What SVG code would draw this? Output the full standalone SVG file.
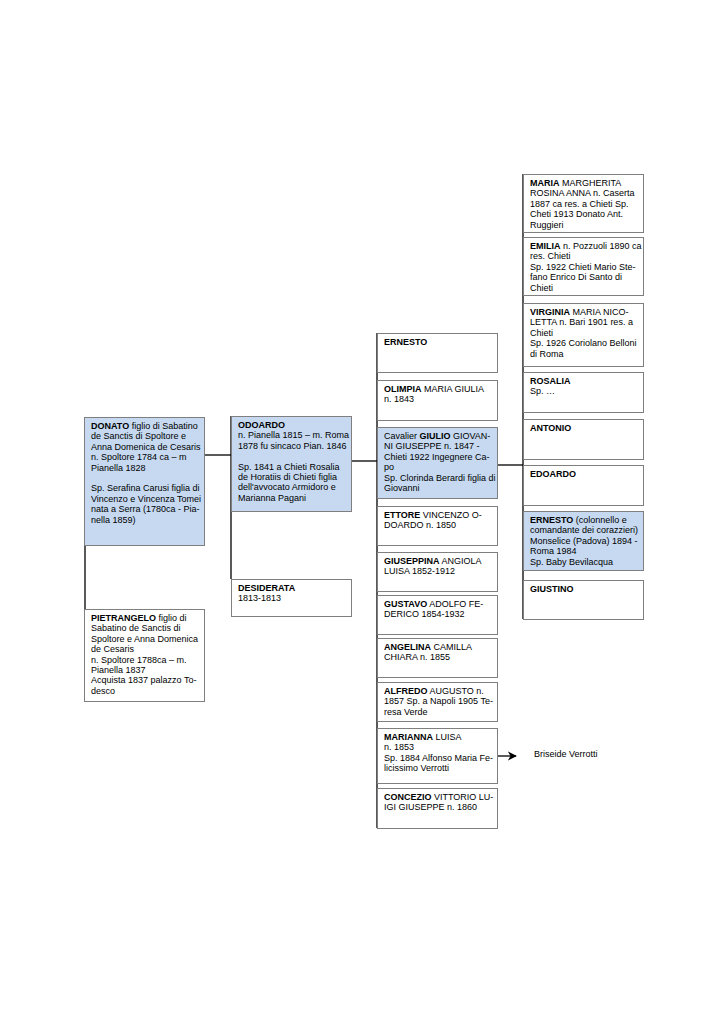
<svg xmlns="http://www.w3.org/2000/svg" width="724" height="1024" viewBox="0 0 724 1024">
<defs>
<style>
.box{fill:#ffffff;stroke:#7f7f7f;stroke-width:1}
.blue{fill:#c6d9f1;stroke:#7f7f7f;stroke-width:1}
.t{font-family:"Liberation Sans",Arial,sans-serif;font-size:9px;fill:#000}
.b{font-weight:bold}
.ln{stroke:#000;stroke-width:1.3;fill:none}
</style>
<marker id="arr" viewBox="0 0 10 10" refX="9" refY="5" markerWidth="7" markerHeight="7" orient="auto"><path d="M0,0 L10,5 L0,10 L3,5 Z" fill="#000"/></marker>
</defs>
<rect width="724" height="1024" fill="#fff"/>
<g id="connectors">
<line class="ln" x1="85" y1="417" x2="85" y2="609"/>
<line class="ln" x1="204" y1="455" x2="231" y2="455"/>
<line class="ln" x1="231" y1="416" x2="231" y2="579"/>
<line class="ln" x1="351" y1="461" x2="377" y2="461"/>
<line class="ln" x1="377" y1="333" x2="377" y2="828"/>
<line class="ln" x1="497" y1="465" x2="523" y2="465"/>
<line class="ln" x1="523" y1="174" x2="523" y2="619"/>
<line class="ln" x1="497" y1="756" x2="516" y2="756" marker-end="url(#arr)"/>
</g>
<g id="donato"><rect class="blue" x="84.5" y="417.5" width="120" height="128"/>
<text class="t" x="91" y="429"><tspan class="b">DONATO</tspan> figlio di Sabatino<tspan x="91" dy="10.4">de Sanctis di Spoltore e</tspan><tspan x="91" dy="10.4">Anna Domenica de Cesaris</tspan><tspan x="91" dy="10.4">n. Spoltore 1784 ca – m</tspan><tspan x="91" dy="10.4">Pianella 1828</tspan><tspan x="91" dy="20.8">Sp. Serafina Carusi figlia di</tspan><tspan x="91" dy="10.4">Vincenzo e Vincenza Tomei</tspan><tspan x="91" dy="10.4">nata a Serra (1780ca - Pia-</tspan><tspan x="91" dy="10.4">nella 1859)</tspan></text></g>
<g id="pietrangelo"><rect class="box" x="84.5" y="609.5" width="120" height="92"/>
<text class="t" x="91" y="621"><tspan class="b">PIETRANGELO</tspan> figlio di<tspan x="91" dy="10.4">Sabatino de Sanctis di</tspan><tspan x="91" dy="10.4">Spoltore e Anna Domenica</tspan><tspan x="91" dy="10.4">de Cesaris</tspan><tspan x="91" dy="10.4">n. Spoltore 1788ca – m.</tspan><tspan x="91" dy="10.4">Pianella 1837</tspan><tspan x="91" dy="10.4">Acquista 1837 palazzo To-</tspan><tspan x="91" dy="10.4">desco</tspan></text></g>
<g id="odoardo"><rect class="blue" x="231.5" y="416.5" width="120" height="95"/>
<text class="t" x="238" y="428"><tspan class="b">ODOARDO</tspan><tspan x="238" dy="10.4">n. Pianella 1815 – m. Roma</tspan><tspan x="238" dy="10.4">1878 fu sincaco Pian. 1846</tspan><tspan x="238" dy="20.8">Sp. 1841 a Chieti Rosalia</tspan><tspan x="238" dy="10.4">de Horatiis di Chieti figlia</tspan><tspan x="238" dy="10.4">dell'avvocato Armidoro e</tspan><tspan x="238" dy="10.4">Marianna Pagani</tspan></text></g>
<g id="desiderata"><rect class="box" x="231.5" y="579.5" width="120" height="37"/>
<text class="t" x="238" y="591"><tspan class="b">DESIDERATA</tspan><tspan x="238" dy="10.4">1813-1813</tspan></text></g>
<g id="ernesto1"><rect class="box" x="377.5" y="333.5" width="120" height="39"/>
<text class="t b" x="384" y="345">ERNESTO</text></g>
<g id="olimpia"><rect class="box" x="377.5" y="380.5" width="120" height="40"/>
<text class="t" x="384" y="392"><tspan class="b">OLIMPIA</tspan> MARIA GIULIA<tspan x="384" dy="10.4">n. 1843</tspan></text></g>
<g id="giulio"><rect class="blue" x="377.5" y="427.5" width="120" height="71"/>
<text class="t" x="384" y="439">Cavalier <tspan class="b">GIULIO</tspan> GIOVAN-<tspan x="384" dy="10.4">NI GIUSEPPE n. 1847 -</tspan><tspan x="384" dy="10.4">Chieti 1922 Ingegnere Ca-</tspan><tspan x="384" dy="10.4">po</tspan><tspan x="384" dy="10.4">Sp. Clorinda Berardi figlia di</tspan><tspan x="384" dy="10.4">Giovanni</tspan></text></g>
<g id="ettore"><rect class="box" x="377.5" y="506.5" width="120" height="39"/>
<text class="t" x="384" y="518"><tspan class="b">ETTORE</tspan> VINCENZO O-<tspan x="384" dy="10.4">DOARDO n. 1850</tspan></text></g>
<g id="giuseppina"><rect class="box" x="377.5" y="552.5" width="120" height="39"/>
<text class="t" x="384" y="564"><tspan class="b">GIUSEPPINA</tspan> ANGIOLA<tspan x="384" dy="10.4">LUISA 1852-1912</tspan></text></g>
<g id="gustavo"><rect class="box" x="377.5" y="595.5" width="120" height="39"/>
<text class="t" x="384" y="607"><tspan class="b">GUSTAVO</tspan> ADOLFO FE-<tspan x="384" dy="10.4">DERICO 1854-1932</tspan></text></g>
<g id="angelina"><rect class="box" x="377.5" y="638.5" width="120" height="39"/>
<text class="t" x="384" y="650"><tspan class="b">ANGELINA</tspan> CAMILLA<tspan x="384" dy="10.4">CHIARA n. 1855</tspan></text></g>
<g id="alfredo"><rect class="box" x="377.5" y="682.5" width="120" height="39"/>
<text class="t" x="384" y="694"><tspan class="b">ALFREDO</tspan> AUGUSTO n.<tspan x="384" dy="10.4">1857 Sp. a Napoli 1905 Te-</tspan><tspan x="384" dy="10.4">resa Verde</tspan></text></g>
<g id="marianna"><rect class="box" x="377.5" y="728.5" width="120" height="55"/>
<text class="t" x="384" y="740"><tspan class="b">MARIANNA</tspan> LUISA<tspan x="384" dy="10.4">n. 1853</tspan><tspan x="384" dy="10.4">Sp. 1884 Alfonso Maria Fe-</tspan><tspan x="384" dy="10.4">licissimo Verrotti</tspan></text></g>
<g id="concezio"><rect class="box" x="377.5" y="788.5" width="120" height="40"/>
<text class="t" x="384" y="800"><tspan class="b">CONCEZIO</tspan> VITTORIO LU-<tspan x="384" dy="10.4">IGI GIUSEPPE n. 1860</tspan></text></g>
<g id="briseide"><text class="t" x="534" y="757">Briseide Verrotti</text></g>
<g id="maria"><rect class="box" x="523.5" y="174.5" width="120" height="58"/>
<text class="t" x="530" y="186"><tspan class="b">MARIA</tspan> MARGHERITA<tspan x="530" dy="10.4">ROSINA ANNA n. Caserta</tspan><tspan x="530" dy="10.4">1887 ca res. a Chieti Sp.</tspan><tspan x="530" dy="10.4">Cheti 1913 Donato Ant.</tspan><tspan x="530" dy="10.4">Ruggieri</tspan></text></g>
<g id="emilia"><rect class="box" x="523.5" y="237.5" width="120" height="58"/>
<text class="t" x="530" y="249"><tspan class="b">EMILIA</tspan> n. Pozzuoli 1890 ca<tspan x="530" dy="10.4">res. Chieti</tspan><tspan x="530" dy="10.4">Sp. 1922 Chieti Mario Ste-</tspan><tspan x="530" dy="10.4">fano Enrico Di Santo di</tspan><tspan x="530" dy="10.4">Chieti</tspan></text></g>
<g id="virginia"><rect class="box" x="523.5" y="303.5" width="120" height="63"/>
<text class="t" x="530" y="315"><tspan class="b">VIRGINIA</tspan> MARIA NICO-<tspan x="530" dy="10.4">LETTA n. Bari 1901 res. a</tspan><tspan x="530" dy="10.4">Chieti</tspan><tspan x="530" dy="10.4">Sp. 1926 Coriolano Belloni</tspan><tspan x="530" dy="10.4">di Roma</tspan></text></g>
<g id="rosalia"><rect class="box" x="523.5" y="372.5" width="120" height="40"/>
<text class="t" x="530" y="384"><tspan class="b">ROSALIA</tspan><tspan x="530" dy="10.4">Sp. …</tspan></text></g>
<g id="antonio"><rect class="box" x="523.5" y="419.5" width="120" height="40"/>
<text class="t b" x="530" y="431">ANTONIO</text></g>
<g id="edoardo"><rect class="box" x="523.5" y="465.5" width="120" height="40"/>
<text class="t b" x="530" y="477">EDOARDO</text></g>
<g id="ernesto2"><rect class="blue" x="523.5" y="511.5" width="120" height="59"/>
<text class="t" x="530" y="523"><tspan class="b">ERNESTO</tspan> (colonnello e<tspan x="530" dy="10.4">comandante dei corazzieri)</tspan><tspan x="530" dy="10.4">Monselice (Padova) 1894 -</tspan><tspan x="530" dy="10.4">Roma 1984</tspan><tspan x="530" dy="10.4">Sp. Baby Bevilacqua</tspan></text></g>
<g id="giustino"><rect class="box" x="523.5" y="580.5" width="120" height="39"/>
<text class="t b" x="530" y="592">GIUSTINO</text></g>
</svg>
